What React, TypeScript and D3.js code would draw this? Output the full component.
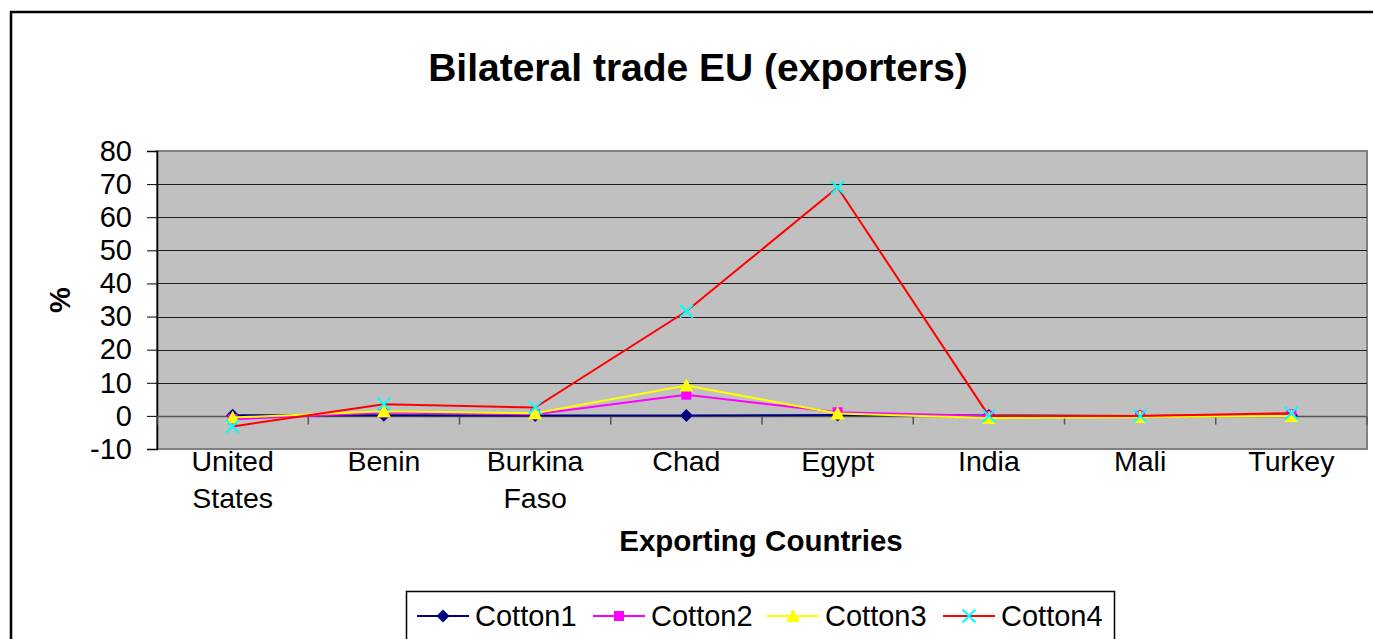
import * as d3 from "d3";
import { useEffect, useRef } from "react";

const countries = [
  "United States",
  "Benin",
  "Burkina Faso",
  "Chad",
  "Egypt",
  "India",
  "Mali",
  "Turkey",
];

const cotton1 = [0.2, 0.2, 0.1, 0.1, 0.3, 0.1, 0, 0.2];
const cotton2 = [-1, 1, 0.5, 6.4, 1.1, 0, 0, 0.5];
const cotton3 = [-0.5, 1.4, 0.8, 9.2, 0.7, -0.6, -0.3, 0];
const cotton4 = [-3.2, 3.5, 2.5, 31.6, 69, 0, 0, 0.8];

const yTicks = [-10, 0, 10, 20, 30, 40, 50, 60, 70, 80];

const seriesNames = ["Cotton1", "Cotton2", "Cotton3", "Cotton4"];

const W = 1373;
const H = 639;
const FONT = "'Liberation Sans', Arial, sans-serif";

export default function App() {
  const ref = useRef<SVGSVGElement>(null);

  useEffect(() => {
    if (!ref.current) return;
    const svg = d3.select(ref.current);
    svg.selectAll("*").remove();

    const plot = { left: 157, right: 1367, top: 151, bottom: 449 };

    // outer chart frame
    svg
      .append("rect")
      .attr("x", 11)
      .attr("y", 12)
      .attr("width", W + 20)
      .attr("height", H + 20)
      .attr("fill", "#fff")
      .attr("stroke", "#000")
      .attr("stroke-width", 2.5);

    svg
      .append("text")
      .attr("x", 698)
      .attr("y", 81)
      .attr("text-anchor", "middle")
      .attr("font-family", FONT)
      .attr("font-weight", "bold")
      .attr("font-size", 39)
      .text("Bilateral trade EU (exporters)");

    const x = d3
      .scalePoint<string>()
      .domain(countries)
      .range([plot.left, plot.right])
      .padding(0.5);
    const step = x.step();

    const y = d3.scaleLinear().domain([-10, 80]).range([plot.bottom, plot.top]);

    svg
      .append("rect")
      .attr("x", plot.left)
      .attr("y", plot.top)
      .attr("width", plot.right - plot.left)
      .attr("height", plot.bottom - plot.top)
      .attr("fill", "#c0c0c0")
      .attr("stroke", "#808080")
      .attr("stroke-width", 2);

    // gridlines
    svg
      .append("g")
      .selectAll("line")
      .data(yTicks.filter((t) => t > 0 && t < 80))
      .enter()
      .append("line")
      .attr("x1", plot.left)
      .attr("x2", plot.right)
      .attr("y1", (d) => Math.round(y(d)) + 0.5)
      .attr("y2", (d) => Math.round(y(d)) + 0.5)
      .attr("stroke", "#1a1a1a")
      .attr("stroke-width", 1);

    // y axis
    const yAxis = svg
      .append("g")
      .attr("transform", `translate(${plot.left},0)`)
      .call(
        d3
          .axisLeft(y)
          .tickValues(yTicks)
          .tickSize(10)
          .tickPadding(15)
          .tickFormat((d) => String(d))
      );
    yAxis.select(".domain").attr("stroke", "#000").attr("stroke-width", 1.5);
    yAxis.selectAll(".tick line").attr("stroke", "#000");
    yAxis
      .selectAll(".tick text")
      .attr("font-family", FONT)
      .attr("font-size", 29)
      .attr("fill", "#000");

    // x axis at zero
    const y0 = Math.round(y(0)) + 0.5;
    svg
      .append("line")
      .attr("x1", plot.left)
      .attr("x2", plot.right)
      .attr("y1", y0)
      .attr("y2", y0)
      .attr("stroke", "#555")
      .attr("stroke-width", 1.5);
    svg
      .append("g")
      .selectAll("line")
      .data(d3.range(countries.length + 1))
      .enter()
      .append("line")
      .attr("x1", (i) => plot.left + i * step)
      .attr("x2", (i) => plot.left + i * step)
      .attr("y1", y0)
      .attr("y2", y0 + 8)
      .attr("stroke", "#555")
      .attr("stroke-width", 1.5);

    // category labels
    const lab = svg
      .append("g")
      .selectAll("text")
      .data(countries)
      .enter()
      .append("text")
      .attr("x", (d) => x(d)!)
      .attr("y", 471)
      .attr("text-anchor", "middle")
      .attr("font-family", FONT)
      .attr("font-size", 28.5);
    lab.each(function (d) {
      const words = d.split(" ");
      const t = d3.select(this);
      words.forEach((w, i) => {
        t.append("tspan")
          .attr("x", x(d)!)
          .attr("dy", i === 0 ? 0 : 37)
          .text(w);
      });
    });

    svg
      .append("text")
      .attr("x", 761)
      .attr("y", 551)
      .attr("text-anchor", "middle")
      .attr("font-family", FONT)
      .attr("font-weight", "bold")
      .attr("font-size", 29.5)
      .text("Exporting Countries");

    svg
      .append("text")
      .attr("transform", "translate(70,300) rotate(-90)")
      .attr("text-anchor", "middle")
      .attr("font-family", FONT)
      .attr("font-weight", "bold")
      .attr("font-size", 29)
      .text("%");

    // series
    const series = [
      { name: seriesNames[0], values: cotton1, line: "#000080", mFill: "#000080", mStroke: "#000080", sym: "diamond" },
      { name: seriesNames[1], values: cotton2, line: "#ff00ff", mFill: "#ff00ff", mStroke: "#ff00ff", sym: "square" },
      { name: seriesNames[2], values: cotton3, line: "#ffff00", mFill: "#ffff00", mStroke: "#ffff00", sym: "triangle" },
      { name: seriesNames[3], values: cotton4, line: "#ff0000", mFill: "none", mStroke: "#00ffff", sym: "x" },
    ];

    const drawMarker = (g: any, sym: string, cx: number, cy: number, fill: string, stroke: string) => {
      if (sym === "diamond") {
        g.append("path")
          .attr("d", `M${cx},${cy - 6.5}L${cx + 6.5},${cy}L${cx},${cy + 6.5}L${cx - 6.5},${cy}Z`)
          .attr("fill", fill);
      } else if (sym === "square") {
        g.append("rect")
          .attr("x", cx - 5)
          .attr("y", cy - 5)
          .attr("width", 10)
          .attr("height", 10)
          .attr("fill", fill);
      } else if (sym === "triangle") {
        g.append("path")
          .attr("d", `M${cx},${cy - 7}L${cx + 7},${cy + 6}L${cx - 7},${cy + 6}Z`)
          .attr("fill", fill);
      } else {
        g.append("path")
          .attr("d", `M${cx - 6.5},${cy - 6.5}L${cx + 6.5},${cy + 6.5}M${cx - 6.5},${cy + 6.5}L${cx + 6.5},${cy - 6.5}`)
          .attr("stroke", stroke)
          .attr("stroke-width", 2)
          .attr("fill", "none");
      }
    };

    const line = d3
      .line<number>()
      .x((_, i) => x(countries[i])!)
      .y((v) => y(v));

    series.forEach((s) => {
      const g = svg.append("g");
      g.append("path")
        .attr("d", line(s.values))
        .attr("fill", "none")
        .attr("stroke", s.line)
        .attr("stroke-width", 2);
      s.values.forEach((v, i) => drawMarker(g, s.sym, x(countries[i])!, y(v), s.mFill, s.mStroke));
    });

    // legend
    const leg = svg.append("g");
    leg
      .append("rect")
      .attr("x", 406.5)
      .attr("y", 591.5)
      .attr("width", 708)
      .attr("height", 60)
      .attr("fill", "#fff")
      .attr("stroke", "#000")
      .attr("stroke-width", 1.5);
    const legX = [417, 593, 767, 943];
    series.forEach((s, i) => {
      const lx = legX[i];
      const ly = 616;
      leg
        .append("line")
        .attr("x1", lx)
        .attr("x2", lx + 52)
        .attr("y1", ly)
        .attr("y2", ly)
        .attr("stroke", s.line)
        .attr("stroke-width", 2);
      drawMarker(leg, s.sym, lx + 26, ly, s.mFill, s.mStroke);
      leg
        .append("text")
        .attr("x", lx + 58)
        .attr("y", ly + 10)
        .attr("font-family", FONT)
        .attr("font-size", 29)
        .text(s.name);
    });
  }, []);

  return (
    <svg
      ref={ref}
      width={W}
      height={H}
      style={{ position: "absolute", left: 0, top: 0, background: "#fff" }}
    />
  );
}
